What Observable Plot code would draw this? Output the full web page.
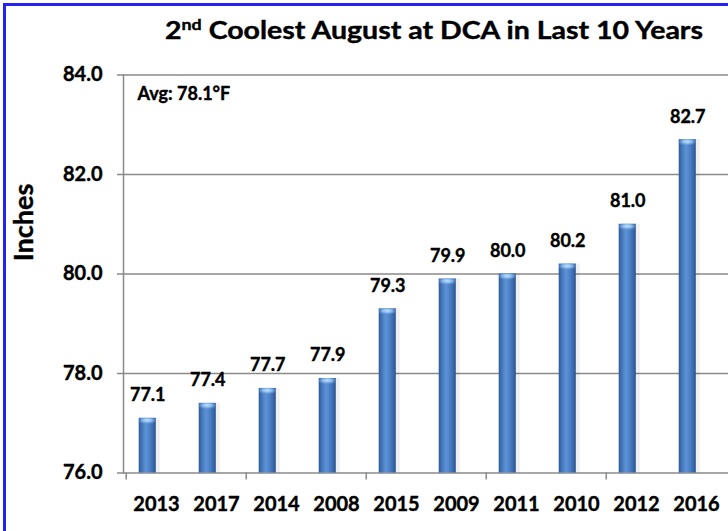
<!DOCTYPE html>
<html>
<head>
<meta charset="utf-8">
<script src="https://cdn.jsdelivr.net/npm/d3@7"></script>
<script src="https://cdn.jsdelivr.net/npm/@observablehq/plot@0.6"></script>
<style>
  html, body { margin: 0; padding: 0; background: #fff; }
  #wrap { position: relative; width: 728px; height: 531px; overflow: hidden; background: #fff; }
  #border { position: absolute; left: 3px; top: 3px; width: 780px; height: 600px; border: 3px solid #2424f2; box-sizing: border-box; }
  #chart { position: absolute; left: 0; top: 0; }
  #chart svg text { font-weight: 700; stroke: #000; stroke-width: 0.4px; stroke-linejoin: round; }
</style>
</head>
<body>
<div id="wrap"><div id="border"></div><div id="chart"></div></div>
<script>
const years = ["2013","2017","2014","2008","2015","2009","2011","2010","2012","2016"];
const temps = [77.1, 77.4, 77.7, 77.9, 79.3, 79.9, 80.0, 80.2, 81.0, 82.7];
const yTicks = [76, 78, 80, 82, 84];
const avgTemp = 78.1;
const titleLead = "2";
const titleSup = "nd";
const titleRest = " Coolest August at DCA in Last 10 Years";
const yLabel = "Inches";

const data = years.map((year, i) => ({year, value: temps[i]}));

const W = 728, H = 531, mL = 123, mR = 0, mT = 74.5, mB = 58.5;
const bw = (W - mL - mR) / years.length;
const insetL = 12.7, insetR = 30.2;
const barShift = (insetL + (bw - insetL - insetR) / 2) - bw / 2;
const grid = "#8a8a8a";
const font = "Lato, 'Liberation Sans', sans-serif";
const weight = "bold";

const chart = Plot.plot({
  width: W, height: H,
  marginLeft: mL, marginRight: mR, marginTop: mT, marginBottom: mB,
  style: {fontFamily: font, fontWeight: weight, background: "transparent", color: "#000"},
  x: {type: "band", domain: years, padding: 0, axis: null, label: null},
  y: {domain: [yTicks[0], yTicks[yTicks.length - 1]], axis: null, label: null},
  marks: [
    Plot.gridY(yTicks, {stroke: grid, strokeOpacity: 1, strokeWidth: 1.5}),
    Plot.frame({anchor: "left", stroke: grid, strokeWidth: 1.5}),
    Plot.axisY(yTicks, {tickSize: 6, tickPadding: 15, tickFormat: d => d.toFixed(1), fontSize: 20, fontWeight: weight, stroke: grid, strokeWidth: 1.5, fill: "#000", label: null}),
    Plot.axisX(years.filter((d, i) => i % 2 === 0), {tickSize: 7, tickFormat: () => "", dx: -bw / 2, stroke: grid, strokeWidth: 1.5, label: null}),
    Plot.axisX({tickSize: 0, tickPadding: 24, fontSize: 20, fontWeight: weight, fill: "#000", label: null}),
    Plot.barY(data, {x: "year", y1: yTicks[0], y2: "value", fill: "#000", fillOpacity: 0.06, insetLeft: insetL + 4, insetRight: insetR - 4}),
    Plot.barY(data, {x: "year", y1: yTicks[0], y2: "value", fill: "url(#barGrad)", insetLeft: insetL, insetRight: insetR}),
    Plot.barY(data, {x: "year", y1: d => d.value - 0.14, y2: "value", fill: "url(#capGrad)", insetLeft: insetL, insetRight: insetR}),
    Plot.text(data, {x: "year", y: "value", text: d => d.value.toFixed(1), dx: barShift, dy: -17, lineAnchor: "bottom", fontSize: 18, fontWeight: weight, fill: "#000"}),
    Plot.text([`Avg: ${avgTemp.toFixed(1)}°F`], {frameAnchor: "top-left", dx: 14, dy: 12, lineAnchor: "top", textAnchor: "start", fontSize: 18, fontWeight: weight, fill: "#000"}),
    Plot.text([yLabel], {frameAnchor: "left", rotate: -90, textAnchor: "middle", dx: -99, dy: 222 - (mT + (H - mB)) / 2, fontSize: 27, fontWeight: weight, fill: "#000"})
  ]
});

const svg = d3.select(chart);
const defs = svg.insert("defs", ":first-child");
const g1 = defs.append("linearGradient").attr("id", "barGrad").attr("x1", 0).attr("x2", 1).attr("y1", 0).attr("y2", 0);
[[0, "#2d5a96"], [0.18, "#4476bb"], [0.42, "#5e93d6"], [0.6, "#5185cb"], [0.85, "#3a69ab"], [1, "#2a5390"]]
  .forEach(([o, c]) => g1.append("stop").attr("offset", o).attr("stop-color", c));
const g2 = defs.append("radialGradient").attr("id", "capGrad").attr("cx", 0.5).attr("cy", 0.35).attr("r", 0.6);
[[0, "#c2e2ff", 1], [0.45, "#8dbcec", 0.95], [1, "#5a8fd2", 0]]
  .forEach(([o, c, a]) => g2.append("stop").attr("offset", o).attr("stop-color", c).attr("stop-opacity", a));

const t = svg.append("text")
  .attr("x", 434).attr("y", 39.3)
  .attr("text-anchor", "middle")
  .attr("font-family", font).attr("font-weight", weight).attr("font-size", 24)
  .attr("fill", "#000")
  .attr("textLength", 538).attr("lengthAdjust", "spacingAndGlyphs");
t.append("tspan").text(titleLead);
t.append("tspan").attr("font-size", 15).attr("dy", -9).text(titleSup);
t.append("tspan").attr("dy", 9).text(titleRest);

document.getElementById("chart").appendChild(chart);
</script>
</body>
</html>
